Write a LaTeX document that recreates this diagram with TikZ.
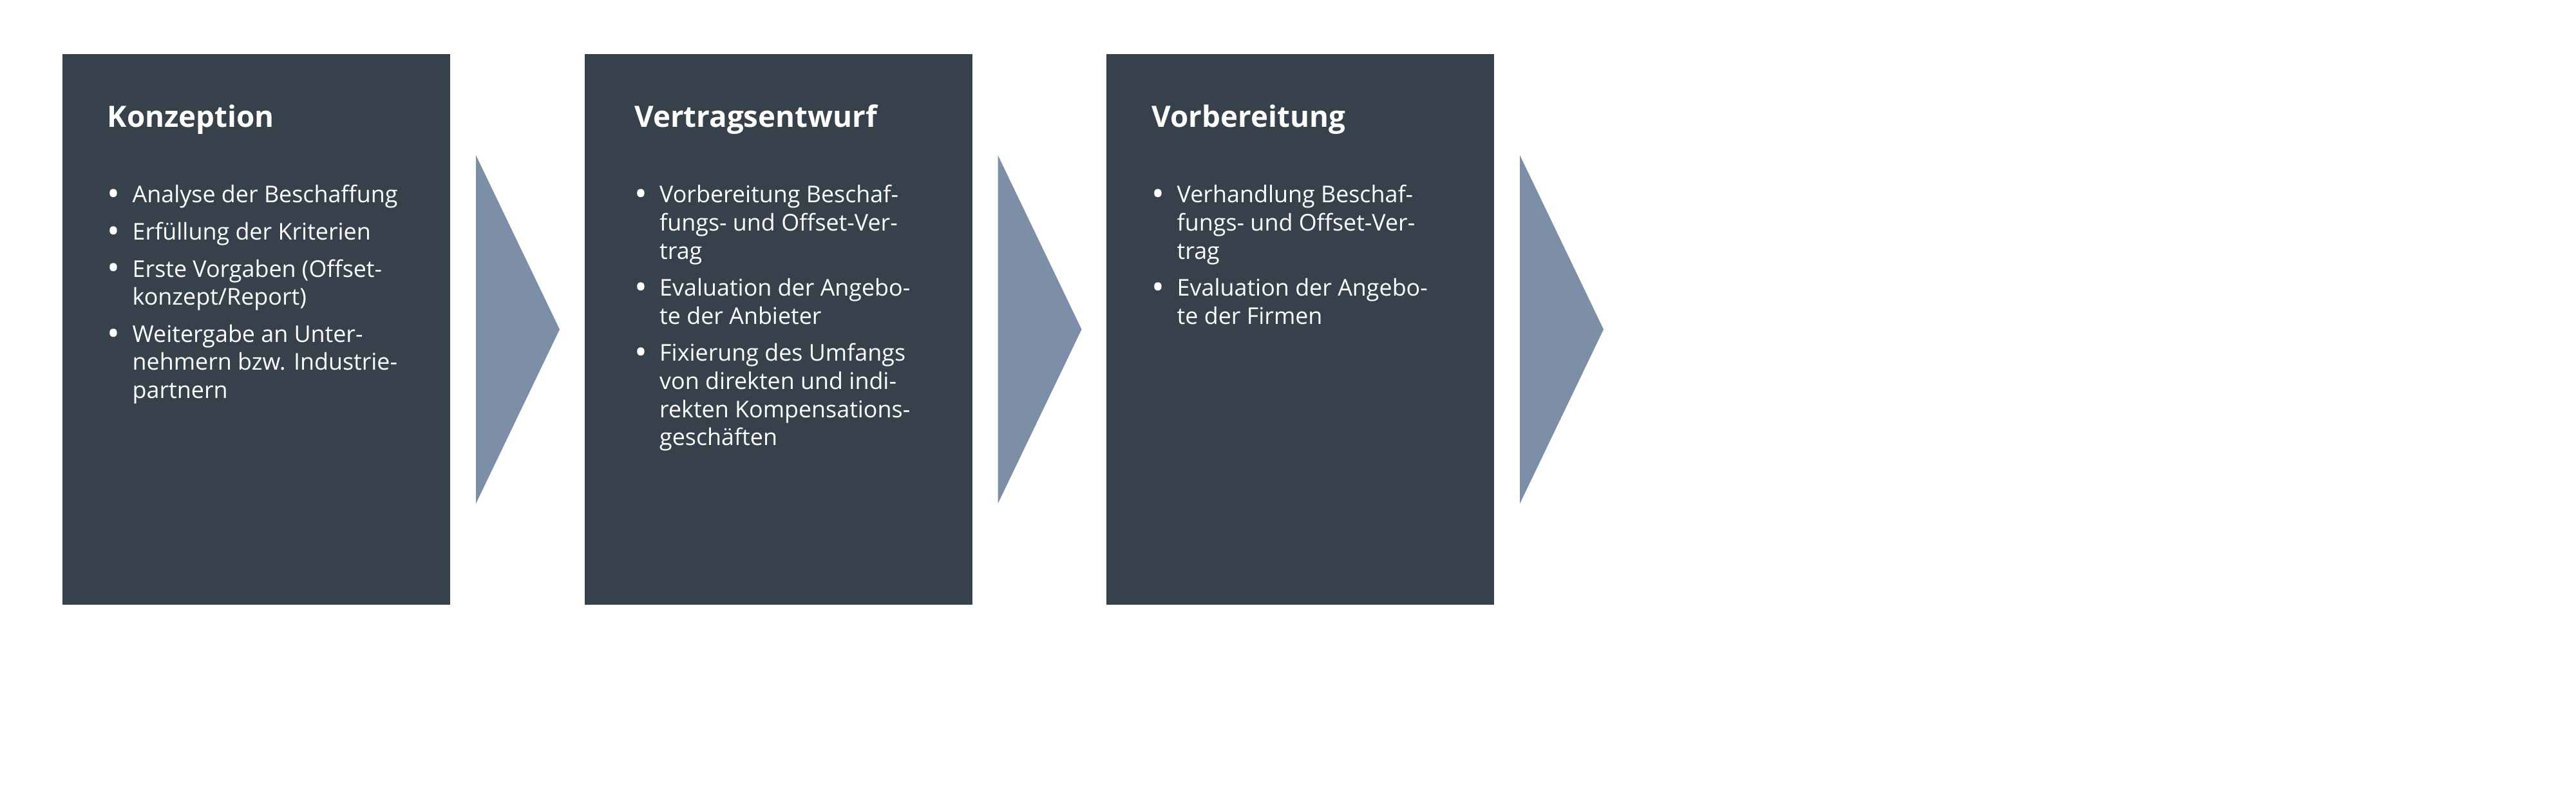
\documentclass[tikz,border=0pt]{standalone}
\usepackage{fontspec}
\setmainfont{Open Sans}
\usetikzlibrary{positioning,shapes.geometric}
\definecolor{boxgrau}{HTML}{37414B}
\definecolor{pfeilgrau}{HTML}{7D8FA6}
\newcommand{\punkt}{\raisebox{-0.25ex}{\fontsize{15}{15}\selectfont\textbullet}}
\tikzset{
  phase/.style={fill=boxgrau, minimum width=6.02cm, minimum height=8.55cm, inner sep=0pt, outer sep=0pt},
  chevron/.style={isosceles triangle, isosceles triangle stretches, fill=pfeilgrau, minimum width=5.41cm, minimum height=1.30cm, inner sep=0pt, outer sep=0pt},
  titel/.style={anchor=base west, inner sep=0pt, text=white, font=\fontsize{13}{15.6}\selectfont\bfseries},
  punkte/.style={anchor=base west, inner sep=0pt, text=white, align=left, font=\fontsize{10.2}{12.4}\selectfont}
}

\begin{document}
\begin{tikzpicture}
  \useasboundingbox (0,0) rectangle (40,-12.5);
  % phasen und pfeile
  \node[phase, anchor=north west] (konz) at (0.97,-0.84) {};
  \node[chevron, right=0.40cm of konz] (pfeil1) {};
  \node[phase, right=0.385cm of pfeil1] (vert) {};
  \node[chevron, right=0.40cm of vert] (pfeil2) {};
  \node[phase, right=0.385cm of pfeil2] (vorb) {};
  \node[chevron, right=0.40cm of vorb] (pfeil3) {};

  % Konzeption
  \node[titel] (konzT) at ([xshift=0.69cm, yshift=-1.14cm]konz.north west) {Konzeption};
  \node[punkte] (konzL) at ([xshift=0.69cm, yshift=-2.31cm]konz.north west) {%
    \begin{tabular}[t]{@{}p{0.39cm}@{}l@{}}
      \punkt & Analyse der Beschaffung\\[0.14cm]
      \punkt & Erfüllung der Kriterien\\[0.14cm]
      \punkt & Erste Vorgaben (Offset-\\
             & konzept/Report)\\[0.14cm]
      \punkt & Weitergabe an Unter-\\
             & nehmern bzw. Industrie-\\
             & partnern
    \end{tabular}};

  % Vertragsentwurf
  \node[titel] (vertT) at ([xshift=0.77cm, yshift=-1.14cm]vert.north west) {Vertragsentwurf};
  \node[punkte] (vertL) at ([xshift=0.77cm, yshift=-2.31cm]vert.north west) {%
    \begin{tabular}[t]{@{}p{0.39cm}@{}l@{}}
      \punkt & Vorbereitung Beschaf-\\
             & fungs- und Offset-Ver-\\
             & trag\\[0.14cm]
      \punkt & Evaluation der Angebo-\\
             & te der Anbieter\\[0.14cm]
      \punkt & Fixierung des Umfangs\\
             & von direkten und indi-\\
             & rekten Kompensations-\\
             & geschäften
    \end{tabular}};

  % Vorbereitung
  \node[titel] (vorbT) at ([xshift=0.70cm, yshift=-1.14cm]vorb.north west) {Vorbereitung};
  \node[punkte] (vorbL) at ([xshift=0.70cm, yshift=-2.31cm]vorb.north west) {%
    \begin{tabular}[t]{@{}p{0.39cm}@{}l@{}}
      \punkt & Verhandlung Beschaf-\\
             & fungs- und Offset-Ver-\\
             & trag\\[0.14cm]
      \punkt & Evaluation der Angebo-\\
             & te der Firmen
    \end{tabular}};
\end{tikzpicture}
\end{document}
